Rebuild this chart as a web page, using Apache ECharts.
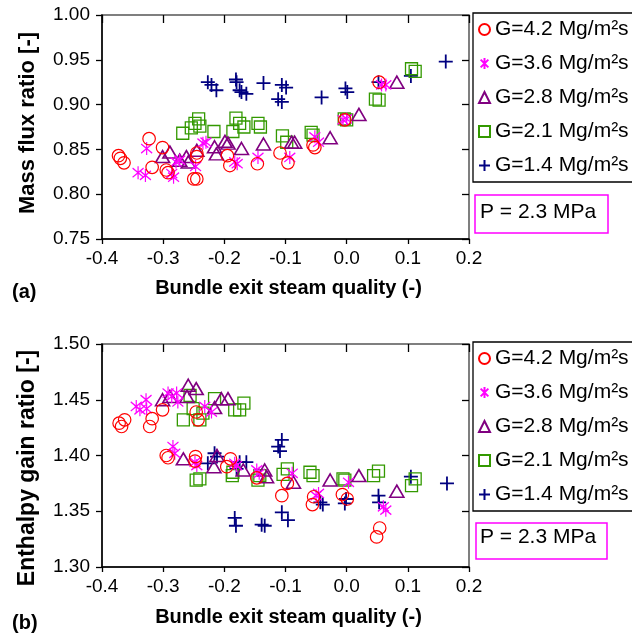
<!DOCTYPE html>
<html><head><meta charset="utf-8">
<script src="https://cdn.jsdelivr.net/npm/echarts@6/dist/echarts.min.js"></script>
<style>html,body{margin:0;padding:0;background:#fff}#c{width:632px;height:633px}</style>
</head><body><div id="c"></div>
<script>
// ---- data ----
const seriesNames = ['G=4.2 Mg/m²s', 'G=3.6 Mg/m²s', 'G=2.8 Mg/m²s', 'G=2.1 Mg/m²s', 'G=1.4 Mg/m²s'];
const xRange = [-0.4, 0.2, 0.1];
const massRange = [0.75, 1.00, 0.05];
const enthRange = [1.30, 1.50, 0.05];
const xTickLabels = ['-0.4', '-0.3', '-0.2', '-0.1', '0.0', '0.1', '0.2'];
const massTickLabels = ['0.75', '0.80', '0.85', '0.90', '0.95', '1.00'];
const enthTickLabels = ['1.30', '1.35', '1.40', '1.45', '1.50'];
const pressureNote = 'P = 2.3 MPa';

// (a) mass flux ratio vs bundle exit steam quality
const mfG42 = [[-0.373,0.843],[-0.370,0.840],[-0.364,0.835],[-0.323,0.862],[-0.318,0.830],[-0.301,0.852],[-0.295,0.827],[-0.292,0.824],[-0.245,0.846],[-0.245,0.842],[-0.250,0.817],[-0.245,0.817],[-0.195,0.843],[-0.191,0.832],[-0.146,0.834],[-0.109,0.846],[-0.096,0.835],[-0.055,0.855],[-0.052,0.852],[-0.003,0.883],[0.053,0.925]];
const mfG36 = [[-0.341,0.824],[-0.329,0.821],[-0.327,0.851],[-0.286,0.823],[-0.283,0.819],[-0.279,0.836],[-0.273,0.838],[-0.247,0.831],[-0.235,0.857],[-0.230,0.858],[-0.183,0.836],[-0.179,0.834],[-0.145,0.841],[-0.093,0.841],[-0.052,0.864],[-0.046,0.858],[-0.006,0.883],[0.000,0.884],[0.057,0.922],[0.064,0.922]];
const mfG28 = [[-0.301,0.842],[-0.289,0.847],[-0.273,0.838],[-0.262,0.842],[-0.259,0.836],[-0.245,0.849],[-0.216,0.853],[-0.213,0.845],[-0.199,0.859],[-0.194,0.857],[-0.172,0.851],[-0.136,0.856],[-0.090,0.858],[-0.085,0.858],[-0.027,0.863],[0.020,0.889],[0.082,0.925]];
const mfG21 = [[-0.268,0.868],[-0.254,0.874],[-0.248,0.879],[-0.242,0.884],[-0.240,0.876],[-0.217,0.870],[-0.186,0.870],[-0.181,0.885],[-0.175,0.879],[-0.168,0.875],[-0.145,0.879],[-0.141,0.875],[-0.105,0.865],[-0.098,0.858],[-0.058,0.869],[-0.055,0.866],[-0.004,0.884],[0.000,0.883],[0.047,0.906],[0.053,0.905],[0.106,0.940],[0.112,0.937]];
const mfG14 = [[-0.227,0.925],[-0.221,0.922],[-0.213,0.916],[-0.181,0.928],[-0.180,0.925],[-0.175,0.916],[-0.172,0.914],[-0.164,0.912],[-0.136,0.924],[-0.106,0.922],[-0.099,0.919],[-0.112,0.906],[-0.106,0.903],[-0.041,0.908],[-0.002,0.918],[0.001,0.914],[0.052,0.925],[0.105,0.932],[0.162,0.948]];

// (b) enthalpy gain ratio vs bundle exit steam quality
const egG42 = [[-0.372,1.429],[-0.368,1.426],[-0.363,1.432],[-0.322,1.426],[-0.318,1.433],[-0.301,1.441],[-0.246,1.439],[-0.243,1.432],[-0.295,1.400],[-0.292,1.398],[-0.247,1.399],[-0.248,1.395],[-0.190,1.397],[-0.196,1.390],[-0.147,1.380],[-0.106,1.364],[-0.097,1.375],[-0.054,1.363],[-0.056,1.356],[-0.007,1.365],[0.001,1.361],[0.054,1.335],[0.049,1.327]];
const egG36 = [[-0.344,1.444],[-0.338,1.441],[-0.328,1.450],[-0.327,1.442],[-0.292,1.456],[-0.286,1.453],[-0.278,1.456],[-0.276,1.448],[-0.232,1.444],[-0.221,1.439],[-0.284,1.408],[-0.281,1.402],[-0.248,1.394],[-0.245,1.391],[-0.183,1.393],[-0.180,1.391],[-0.147,1.387],[-0.143,1.384],[-0.089,1.384],[-0.046,1.366],[-0.050,1.364],[0.003,1.376],[0.060,1.354],[0.064,1.351]];
const egG28 = [[-0.301,1.450],[-0.289,1.453],[-0.259,1.463],[-0.246,1.460],[-0.261,1.453],[-0.216,1.443],[-0.205,1.451],[-0.194,1.451],[-0.267,1.397],[-0.217,1.390],[-0.212,1.400],[-0.169,1.387],[-0.134,1.387],[-0.131,1.381],[-0.087,1.376],[-0.027,1.378],[0.020,1.382],[0.082,1.368]];
const egG21 = [[-0.256,1.454],[-0.251,1.442],[-0.267,1.432],[-0.240,1.432],[-0.235,1.438],[-0.216,1.451],[-0.183,1.441],[-0.175,1.441],[-0.168,1.447],[-0.246,1.378],[-0.240,1.379],[-0.186,1.385],[-0.187,1.382],[-0.142,1.382],[-0.145,1.378],[-0.104,1.383],[-0.097,1.388],[-0.060,1.385],[-0.055,1.382],[-0.006,1.379],[-0.003,1.378],[0.044,1.382],[0.052,1.386],[0.106,1.373],[0.112,1.379]];
const egG14 = [[-0.216,1.402],[-0.212,1.399],[-0.227,1.393],[-0.175,1.394],[-0.164,1.394],[-0.180,1.388],[-0.112,1.408],[-0.106,1.414],[-0.109,1.404],[-0.183,1.344],[-0.181,1.337],[-0.139,1.338],[-0.134,1.337],[-0.106,1.349],[-0.096,1.342],[-0.043,1.358],[-0.039,1.356],[-0.001,1.361],[-0.003,1.357],[0.052,1.364],[0.053,1.358],[0.105,1.381],[0.164,1.375]];

// ---- styling ----
const FONT = '"Liberation Sans", Arial, sans-serif';
const markers = [
  {symbol: 'circle', size: 12.5, color: '#ff0000', width: 1.2},
  {symbol: 'path://M0,-10L0,10M-7,-7L7,7M-7,7L7,-7', size: [11, 13], color: '#ff00ff', width: 1.3},
  {symbol: 'triangle', size: [14, 12], color: '#800080', width: 1.6},
  {symbol: 'rect', size: 12, color: '#339900', width: 1.3},
  {symbol: 'path://M0,-10L0,10M-10,0L10,0', size: 14, color: '#000080', width: 1.8}
];
const panelA = [mfG42, mfG36, mfG28, mfG21, mfG14];
const panelB = [egG42, egG36, egG28, egG21, egG14];

function fmtX(v) { const i = Math.round((v - xRange[0]) / xRange[2]); return xTickLabels[i] || ''; }
function fmtMass(v) { const i = Math.round((v - massRange[0]) / massRange[2]); return massTickLabels[i] || ''; }
function fmtEnth(v) { const i = Math.round((v - enthRange[0]) / enthRange[2]); return enthTickLabels[i] || ''; }

const grids = [
  {left: 102, right: 163, top: 15, height: 224, show: true, borderColor: '#555', borderWidth: 1.5, outerBoundsMode: 'none'},
  {left: 102, right: 163, top: 344, height: 223, show: true, borderColor: '#555', borderWidth: 1.5, outerBoundsMode: 'none'}
];

function xAxisFor(gi, primary) {
  return {
    type: 'value', gridIndex: gi, min: xRange[0], max: xRange[1], interval: xRange[2],
    axisLine: {show: primary, onZero: false, lineStyle: {color: '#000', width: 1.5}},
    axisTick: {show: true, inside: !primary, length: primary ? 5 : 8, lineStyle: {color: '#000', width: 1.3}},
    axisLabel: {show: primary, formatter: fmtX, color: '#000', fontSize: 19, fontFamily: FONT, margin: 10},
    splitLine: {show: false},
    name: primary ? 'Bundle exit steam quality (-)' : '',
    nameLocation: 'middle', nameGap: gi === 0 ? 39 : 40,
    nameTextStyle: {color: '#000', fontSize: 20, fontWeight: 'bold', fontFamily: FONT, padding: [0, 0, 0, 6]}
  };
}
function yAxisFor(gi, primary) {
  const r = gi === 0 ? massRange : enthRange;
  return {
    type: 'value', gridIndex: gi, min: r[0], max: r[1], interval: r[2],
    axisLine: {show: primary, onZero: false, lineStyle: {color: '#000', width: 1.5}},
    axisTick: {show: true, inside: !primary, length: primary ? 6 : 7, lineStyle: {color: '#000', width: 1.3}},
    axisLabel: {show: primary, formatter: gi === 0 ? fmtMass : fmtEnth, color: '#000', fontSize: 19, fontFamily: FONT, margin: 12},
    splitLine: {show: false}
  };
}

const series = [];
[panelA, panelB].forEach((panel, gi) => {
  panel.forEach((data, k) => {
    const m = markers[k];
    series.push({
      name: seriesNames[k], type: 'scatter', xAxisIndex: gi * 2, yAxisIndex: gi * 2,
      data: data, symbol: m.symbol, symbolSize: m.size,
      itemStyle: {color: 'rgba(0,0,0,0)', borderColor: m.color, borderWidth: m.width, opacity: 1},
      emphasis: {disabled: true}, z: 10 - k
    });
  });
});

function legendAt(top) {
  return {
    data: seriesNames, orient: 'vertical', left: 473, top: top,
    padding: [6, 40, 6, 5], itemGap: 13, itemWidth: 11, itemHeight: 11,
    borderColor: '#000', borderWidth: 1.3, backgroundColor: '#fff',
    textStyle: {color: '#000', fontSize: 21, fontFamily: FONT, lineHeight: 20, padding: [0, 0, 0, 0]},
    selectedMode: false
  };
}

const option = {
  animation: false,
  backgroundColor: '#fff',
  grid: grids,
  xAxis: [xAxisFor(0, true), xAxisFor(0, false), xAxisFor(1, true), xAxisFor(1, false)],
  yAxis: [yAxisFor(0, true), yAxisFor(0, false), yAxisFor(1, true), yAxisFor(1, false)],
  legend: [legendAt(13), legendAt(342)],
  series: series,
  graphic: [
    {type: 'text', x: 28, y: 123, rotation: Math.PI / 2,
     style: {text: 'Mass flux ratio [-]', font: 'bold 22px ' + FONT, fill: '#000', align: 'center', verticalAlign: 'middle'}},
    {type: 'text', x: 28, y: 468, rotation: Math.PI / 2,
     style: {text: 'Enthalpy gain ratio [-]', font: 'bold 23px ' + FONT, fill: '#000', align: 'center', verticalAlign: 'middle'}},
    {type: 'text', x: 12, y: 292,
     style: {text: '(a)', font: 'bold 20px ' + FONT, fill: '#000', align: 'left', verticalAlign: 'middle'}},
    {type: 'text', x: 12, y: 623,
     style: {text: '(b)', font: 'bold 20px ' + FONT, fill: '#000', align: 'left', verticalAlign: 'middle'}},
    {type: 'rect', shape: {x: 475, y: 195, width: 133, height: 38},
     style: {fill: 'none', stroke: '#ff00ff', lineWidth: 1.5}},
    {type: 'text', x: 480, y: 212,
     style: {text: pressureNote, font: '21px ' + FONT, fill: '#000', align: 'left', verticalAlign: 'middle'}},
    {type: 'rect', shape: {x: 476, y: 523, width: 131, height: 36},
     style: {fill: 'none', stroke: '#ff00ff', lineWidth: 1.5}},
    {type: 'text', x: 480, y: 537,
     style: {text: pressureNote, font: '21px ' + FONT, fill: '#000', align: 'left', verticalAlign: 'middle'}}
  ]
};

const chart = echarts.init(document.getElementById('c'), null, {renderer: 'canvas'});
chart.setOption(option);
</script>
</body></html>
